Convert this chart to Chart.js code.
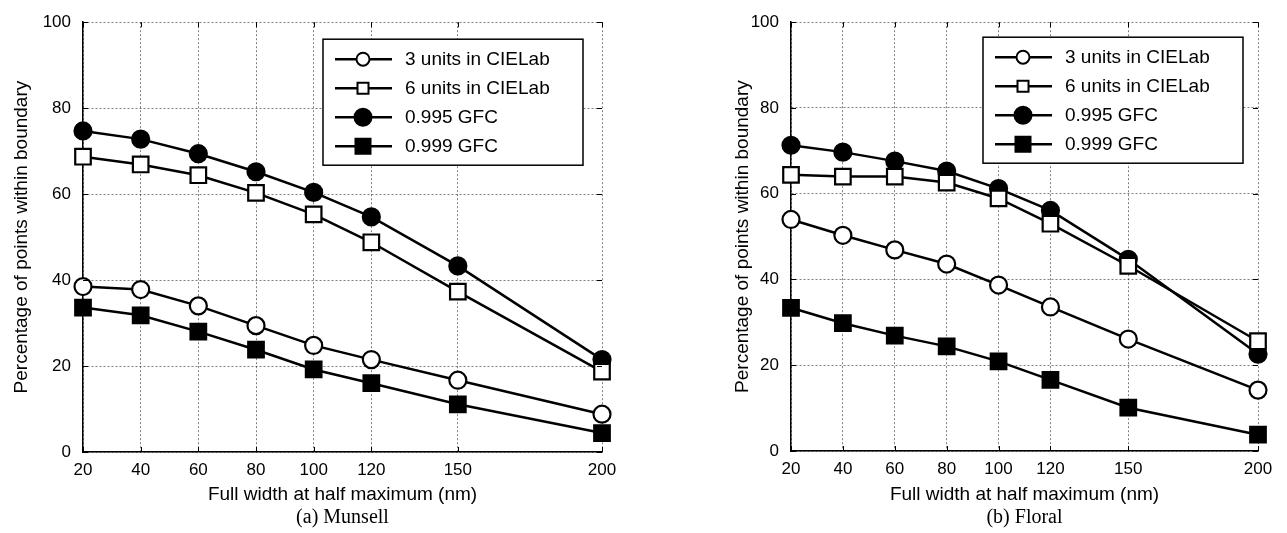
<!DOCTYPE html>
<html>
<head>
<meta charset="utf-8">
<script src="https://cdn.jsdelivr.net/npm/chart.js@4.4.1/dist/chart.umd.min.js"></script>
<style>
body { margin: 0; background: #fff; }
#wrap { position: relative; width: 1287px; height: 533px; }
canvas { position: absolute; top: 0; }
</style>
</head>
<body>
<div id="wrap">
  <canvas id="munsell" width="640" height="533" style="left:0px"></canvas>
  <canvas id="floral" width="647" height="533" style="left:640px"></canvas>
</div>
<script>
// Datos
const fwhmNm = [20, 40, 60, 80, 100, 120, 150, 200];
const yTickValues = [0, 20, 40, 60, 80, 100];
const seriesLabels = ['3 units in CIELab', '6 units in CIELab', '0.995 GFC', '0.999 GFC'];

const munsell3Units = [38.5, 37.8, 34.0, 29.4, 24.8, 21.5, 16.7, 8.8];
const munsell6Units = [68.7, 66.9, 64.4, 60.3, 55.3, 48.8, 37.3, 18.7];
const munsellGfc995 = [74.7, 72.8, 69.4, 65.2, 60.4, 54.7, 43.3, 21.5];
const munsellGfc999 = [33.6, 31.8, 28.0, 23.8, 19.2, 16.0, 11.1, 4.4];

const floral3Units = [54.0, 50.3, 46.9, 43.6, 38.7, 33.6, 26.1, 14.2];
const floral6Units = [64.4, 64.0, 64.0, 62.6, 58.9, 53.0, 43.2, 25.6];
const floralGfc995 = [71.3, 69.7, 67.6, 65.3, 61.2, 56.1, 44.7, 22.6];
const floralGfc999 = [33.4, 29.8, 26.9, 24.4, 20.9, 16.6, 10.1, 3.8];

var SANS = '"Liberation Sans", Arial, sans-serif';
Chart.defaults.color = '#000';
Chart.defaults.font.family = SANS;

// estilo de marcador por serie (circulo/cuadrado, hueco/relleno)
var marcas = [
  { estilo: 'circle', relleno: '#fff', radio: 8.5, leyenda: 6.5 },
  { estilo: 'rect', relleno: '#fff', radio: 11, leyenda: 5.5 },
  { estilo: 'circle', relleno: '#000', radio: 8.5, leyenda: 8.5 },
  { estilo: 'rect', relleno: '#000', radio: 11, leyenda: 7.5 }
];

// ticks hacia dentro en los cuatro lados y leyenda con recuadro
var marcoPlugin = {
  id: 'marco',
  afterDraw: function (chart, args, opts) {
    var ctx = chart.ctx;
    var a = chart.chartArea;
    var xs = chart.scales.x, ys = chart.scales.y;
    ctx.save();
    ctx.strokeStyle = '#000';
    ctx.lineWidth = 1;
    ctx.beginPath();
    fwhmNm.forEach(function (v) {
      var px = Math.round(xs.getPixelForValue(v)) + 0.5;
      ctx.moveTo(px, a.bottom); ctx.lineTo(px, a.bottom - 5);
      ctx.moveTo(px, a.top); ctx.lineTo(px, a.top + 5);
    });
    yTickValues.forEach(function (v) {
      var py = Math.round(ys.getPixelForValue(v)) + 0.5;
      ctx.moveTo(a.left, py); ctx.lineTo(a.left + 5, py);
      ctx.moveTo(a.right, py); ctx.lineTo(a.right - 5, py);
    });
    ctx.stroke();

    // leyenda
    var w = 260, h = 126;
    var bx = a.right - opts.right - w;
    var by = a.top + opts.top;
    ctx.fillStyle = '#fff';
    ctx.fillRect(bx, by, w, h);
    ctx.lineWidth = 1.5;
    ctx.strokeRect(bx, by, w, h);
    chart.data.datasets.forEach(function (ds, i) {
      var cy = by + 20 + i * 29;
      var m = marcas[i];
      ctx.lineWidth = 2.5;
      ctx.strokeStyle = '#000';
      ctx.beginPath();
      ctx.moveTo(bx + 12, cy);
      ctx.lineTo(bx + 69, cy);
      ctx.stroke();
      ctx.lineWidth = 2;
      ctx.fillStyle = m.relleno;
      ctx.beginPath();
      if (m.estilo === 'circle') {
        ctx.arc(bx + 40, cy, m.leyenda, 0, Math.PI * 2);
      } else {
        ctx.rect(bx + 40 - m.leyenda, cy - m.leyenda, m.leyenda * 2, m.leyenda * 2);
      }
      ctx.fill();
      ctx.stroke();
      ctx.fillStyle = '#000';
      ctx.font = '19px ' + SANS;
      ctx.textBaseline = 'middle';
      ctx.textAlign = 'left';
      ctx.fillText(ds.label, bx + 82, cy + 1);
    });
    ctx.restore();
  }
};

function crearGrafico(id, caption, valores, disp) {
  var datasets = valores.map(function (serie, i) {
    return {
      label: seriesLabels[i],
      data: fwhmNm.map(function (x, j) { return { x: x, y: serie[j] }; }),
      borderColor: '#000',
      borderWidth: 2.5,
      backgroundColor: marcas[i].relleno,
      pointStyle: marcas[i].estilo,
      pointRadius: marcas[i].radio,
      pointBorderWidth: 2.2,
      pointBackgroundColor: marcas[i].relleno,
      pointBorderColor: '#000',
      tension: 0,
      clip: false
    };
  });

  return new Chart(document.getElementById(id), {
    type: 'line',
    data: { datasets: datasets },
    plugins: [marcoPlugin],
    options: {
      responsive: false,
      animation: false,
      devicePixelRatio: 1,
      layout: { padding: { top: disp.top, left: 0, right: disp.right, bottom: 3 } },
      plugins: {
        legend: { display: false },
        tooltip: { enabled: false },
        title: {
          display: true,
          text: caption,
          position: 'bottom',
          fullSize: false,
          color: '#000',
          font: { family: '"Liberation Serif", "Times New Roman", serif', size: 20, weight: 'normal' },
          padding: { top: 0, bottom: 0 }
        },
        marco: { right: disp.legRight, top: disp.legTop }
      },
      scales: {
        x: {
          type: 'linear',
          min: 20,
          max: 200,
          afterBuildTicks: function (s) { s.ticks = fwhmNm.map(function (v) { return { value: v }; }); },
          afterFit: function (s) { s.height = disp.xHeight; },
          grid: { color: 'rgba(0,0,0,0.5)', lineWidth: 1, drawTicks: false },
          border: { display: true, color: '#000', width: 1.5, dash: [2, 2] },
          ticks: { font: { size: 17 }, padding: 8, maxRotation: 0, autoSkip: false },
          title: {
            display: true,
            text: 'Full width at half maximum (nm)',
            font: { size: 19 },
            padding: { top: 0, bottom: 0 }
          }
        },
        y: {
          min: 0,
          max: 100,
          afterBuildTicks: function (s) { s.ticks = yTickValues.map(function (v) { return { value: v }; }); },
          afterFit: function (s) { s.width = disp.yWidth; },
          grid: { color: 'rgba(0,0,0,0.5)', lineWidth: 1, drawTicks: false },
          border: { display: true, color: '#000', width: 1.5, dash: [2, 2] },
          ticks: { font: { size: 17 }, padding: disp.yPad },
          title: {
            display: true,
            text: 'Percentage of points within boundary',
            font: { size: 19 },
            padding: { top: disp.yTitle, bottom: 0 }
          }
        }
      }
    }
  });
}

crearGrafico('munsell', '(a) Munsell',
  [munsell3Units, munsell6Units, munsellGfc995, munsellGfc999],
  { top: 16, right: 38, yWidth: 83, xHeight: 54, yPad: 12, yTitle: 10, legRight: 19, legTop: 17 });

crearGrafico('floral', '(b) Floral',
  [floral3Units, floral6Units, floralGfc995, floralGfc999],
  { top: 18, right: 29, yWidth: 151, xHeight: 55, yPad: 12, yTitle: 91, legRight: 15, legTop: 15 });
</script>
</body>
</html>
